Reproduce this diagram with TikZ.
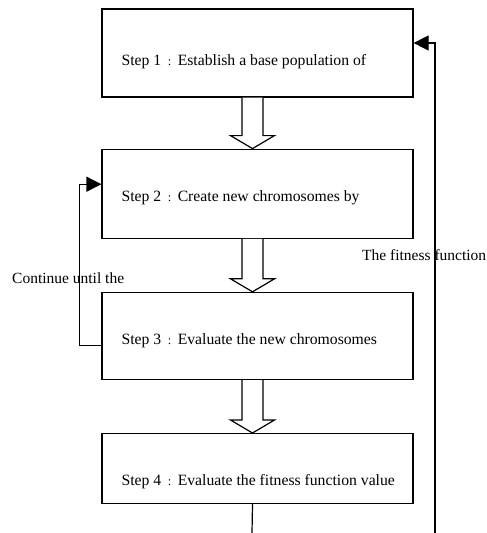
\documentclass[tikz,border=0pt]{standalone}
\usepackage{fontspec}
\setmainfont{Liberation Serif}
\usetikzlibrary{positioning,calc,arrows.meta}
\tikzset{
    stepbox/.style = {draw, rectangle, line width=1.2pt,
        minimum width=311pt, inner sep=0pt},
    steptext/.style = {anchor=west, inner sep=0pt,
        font=\fontsize{15.7}{18}\selectfont},
    note/.style = {anchor=west, inner sep=0pt,
        font=\fontsize{15.5}{18}\selectfont},
    hollow/.style = {draw, line width=1.2pt, fill=white, line join=miter},
    arrow/.style = {draw, line width=1.2pt,
        -{Triangle[length=15pt,width=15pt]}}
}
\newcommand{\stepsep}{\makebox[1.05em]{\scalebox{0.8}{:}}}
\begin{document}
\begin{tikzpicture}[x=1pt,y=-1pt]
        \useasboundingbox (0,0) rectangle (487,533);
        \fill[white] (0,0) rectangle (487,533);
        % the four steps
        \node [stepbox, minimum height=88pt] (s1) at (257.5,53) {};
        \node [stepbox, minimum height=89pt, below=51pt of s1] (s2) {};
        \node [stepbox, minimum height=87pt, below=53pt of s2] (s3) {};
        \node [stepbox, minimum height=70pt, below=53pt of s3] (s4) {};
        \node [steptext] (t1) at ($(s1.west)+(20,9)$) {Step 1\stepsep Establish a base population of};
        \node [steptext] (t2) at ($(s2.west)+(20,4.5)$) {Step 2\stepsep Create new chromosomes by};
        \node [steptext] (t3) at ($(s3.west)+(20,5)$) {Step 3\stepsep Evaluate the new chromosomes};
        \node [steptext] (t4) at ($(s4.west)+(20,13)$) {Step 4\stepsep Evaluate the fitness function value};
        % hollow arrows between steps
        \foreach \a/\b in {s1/s2,s2/s3,s3/s4}
            \draw [hollow] ($(\a.south)+(-15.5,0)$) -- ($(\b.north)+(-15.5,-13)$)
                -- ($(\b.north)+(-27,-13)$) -- ($(\b.north)+(-5,0)$)
                -- ($(\b.north)+(17,-13)$) -- ($(\b.north)+(5.5,-13)$)
                -- ($(\a.south)+(5.5,0)$);
        % loop back to step 2
        \draw [arrow] ($(s3.west)+(0,9.5)$) -- ++(-22,0) |- ($(s2.west)+(0,-9.5)$);
        \node [note] (cont) at (12,278) {Continue until the};
        % feedback to step 1
        \coordinate (out) at (252,533);
        \coordinate (fb) at (435,533);
        \draw [line width=1.2pt] ($(s4.south)+(-5,0)$) -- (out);
        \node [note] (fit) at (362,255) {The fitness function};
        \draw [arrow] (fb) |- ($(s1.east)+(0,-10)$);
    \end{tikzpicture}
\end{document}
